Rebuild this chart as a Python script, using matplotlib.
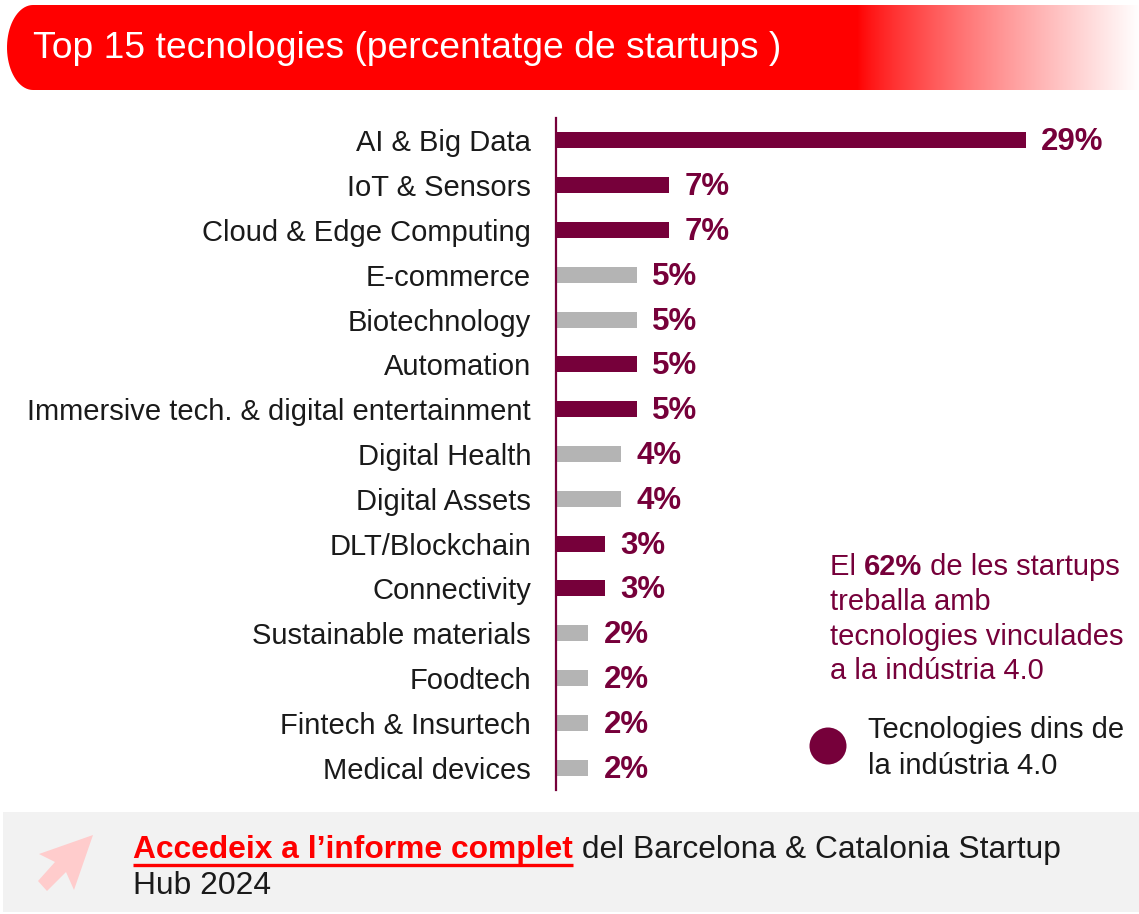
import numpy as np
import matplotlib
matplotlib.use("Agg")
import matplotlib.pyplot as plt
from matplotlib.path import Path
from matplotlib.patches import PathPatch, Polygon, Rectangle, Circle

plt.rcParams['font.family'] = ['Liberation Sans', 'DejaVu Sans']

# Data
technologies = ["AI & Big Data", "IoT & Sensors", "Cloud & Edge Computing", "E-commerce",
                "Biotechnology", "Automation", "Immersive tech. & digital entertainment",
                "Digital Health", "Digital Assets", "DLT/Blockchain", "Connectivity",
                "Sustainable materials", "Foodtech", "Fintech & Insurtech", "Medical devices"]
share = [29, 7, 7, 5, 5, 5, 5, 4, 4, 3, 3, 2, 2, 2, 2]
industry40 = [True, True, True, False, False, True, True, False, False, True, True,
              False, False, False, False]

MAROON = "#76003a"
GREY = "#b4b4b4"
RED = "#ff0000"
DARK = "#1a1a1a"
W, H = 1139, 914

fig = plt.figure(figsize=(W / 100, H / 100), dpi=100)

# background layer in pixel coordinates
bg = fig.add_axes([0, 0, 1, 1])
bg.set_xlim(0, W)
bg.set_ylim(H, 0)
bg.axis("off")

# header band: red fading to white, rounded on the left
top, bot, x0, rx = 5, 90, 7, 26
ymid, ry = (top + bot) / 2, (bot - top) / 2
th = np.linspace(np.pi / 2, 3 * np.pi / 2, 40)
pts = [(W, top)] + [(x0 + rx + rx * np.cos(t), ymid - ry * np.sin(t)) for t in th] + [(W, bot)]
band = PathPatch(Path(pts + [pts[0]], closed=True), facecolor="none", edgecolor="none")
bg.add_patch(band)
xs = np.arange(W)
fade = np.clip((xs - 857) / (W - 857), 0, 1) ** 0.8
grad = np.ones((2, W, 3))
grad[:, :, 1] = fade
grad[:, :, 2] = fade
im = bg.imshow(grad, extent=[0, W, bot, top], aspect="auto", interpolation="bilinear")
im.set_clip_path(band)
bg.set_xlim(0, W)
bg.set_ylim(H, 0)
bg.text(33, 48, "Top 15 tecnologies (percentatge de startups )", color="white",
        fontsize=26.8, va="center", ha="left")

# footer box
bg.add_patch(Rectangle((3, 812), W - 3, 100, facecolor="#f2f2f2", edgecolor="none"))
arrow = [(93, 835), (39, 854), (55, 862), (38, 881), (47, 891), (66, 872), (74, 890)]
bg.add_patch(Polygon(arrow, closed=True, facecolor="#ffcccc", edgecolor="none"))

fig.canvas.draw()
rend = fig.canvas.get_renderer()
inv = bg.transData.inverted()


def text_right(t):
    bb = t.get_window_extent(renderer=rend)
    return inv.transform((bb.x1, bb.y0))[0]


FOOT = 22.9
link = bg.text(133, 850, "Accedeix a l\u2019informe complet", color=RED, fontsize=FOOT,
               fontweight="bold", va="center", ha="left")
xr = text_right(link)
bg.plot([133, xr], [865, 865], color=RED, lw=2.4, solid_capstyle="butt")
bg.text(xr, 850, " del Barcelona & Catalonia Startup", color=DARK, fontsize=FOOT,
        va="center", ha="left")
bg.text(133, 886, "Hub 2024", color=DARK, fontsize=FOOT, va="center", ha="left")

# side note
NOTE = 21
t1 = bg.text(830, 567, "El ", color=MAROON, fontsize=NOTE, va="center", ha="left")
t2 = bg.text(text_right(t1), 567, "62%", color=MAROON, fontsize=NOTE, fontweight="bold",
             va="center", ha="left")
bg.text(text_right(t2), 567, " de les startups", color=MAROON, fontsize=NOTE,
        va="center", ha="left")
for yy, line in zip([602, 637, 671],
                    ["treballa amb", "tecnologies vinculades", "a la ind\u00fastria 4.0"]):
    bg.text(830, yy, line, color=MAROON, fontsize=NOTE, va="center", ha="left")

# legend
bg.add_patch(Circle((828, 746), 18.5, facecolor=MAROON, edgecolor="none"))
bg.text(868, 730, "Tecnologies dins de", color=DARK, fontsize=NOTE, va="center", ha="left")
bg.text(868, 766, "la ind\u00fastria 4.0", color=DARK, fontsize=NOTE, va="center", ha="left")

# bar chart
ax = fig.add_axes([556 / W, (H - 790) / H, (W - 556) / W, (790 - 118) / H])
ax.patch.set_alpha(0)
y = np.arange(len(technologies))
colors = [MAROON if f else GREY for f in industry40]
ax.barh(y, share, height=0.36, color=colors)
for yi, v in zip(y, share):
    ax.annotate(f"{v}%", (v, yi), xytext=(11, -1.5), textcoords="offset points",
                va="center", ha="left", fontsize=22.5, fontweight="bold", color=MAROON)
ax.set_xlim(0, (W - 556) / 16.2)
ax.set_ylim(len(technologies) - 0.5, -0.5)
ax.set_yticks(y)
ax.set_yticklabels(technologies, fontsize=21, color=DARK)
ax.tick_params(axis="y", length=0, pad=18)
ax.set_xticks([])
for s in ["top", "right", "bottom"]:
    ax.spines[s].set_visible(False)
ax.spines["left"].set_color(MAROON)
ax.spines["left"].set_linewidth(1.6)

fig.savefig("out.png", dpi=100)
